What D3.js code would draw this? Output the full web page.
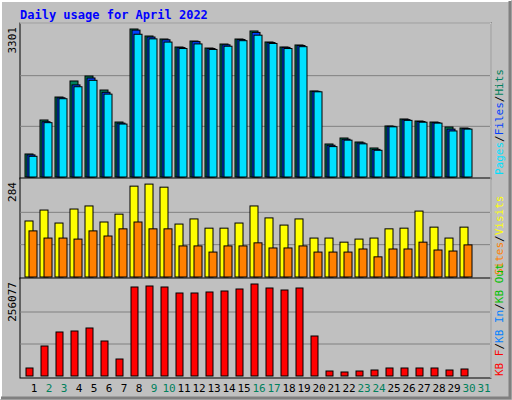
<!DOCTYPE html><html><head><script src="https://cdn.jsdelivr.net/npm/d3@7"></script>
<style>body{margin:0;background:#fff}text{font-family:"DejaVu Sans Mono",monospace}</style></head><body><svg width="512" height="400"></svg>
<script>
const days=d3.range(1,32);
const weekend=[2,3,9,10,16,17,23,24,30,31];
const hits=[500,1238,1737,2085,2193,1889,1194,3214,3062,2997,2823,2953,2801,2888,2997,3171,2932,2823,2867,1868,717,847,760,630,1108,1260,1216,1194,1086,1064];
const files=[480,1200,1720,2000,2150,1840,1170,3190,3040,2980,2810,2940,2790,2870,2985,3140,2920,2815,2855,1860,690,820,740,600,1100,1245,1205,1180,1040,1050];
const pages=[450,1180,1700,1960,2100,1800,1150,3100,3000,2930,2790,2890,2770,2840,2960,3080,2900,2790,2830,1850,660,800,720,580,1090,1230,1190,1170,1000,1040];
const visits=[164,196,158,199,208,161,184,266,272,263,155,170,143,143,158,208,173,152,170,114,114,102,111,114,141,143,193,146,114,146];
const sites=[135,114,114,111,135,120,141,161,141,141,91,91,73,91,91,100,85,85,91,73,73,73,82,59,82,82,102,79,76,94];
const kbytes=[21340,80024,117369,120036,128039,93362,45347,237405,240072,237405,221400,221400,224070,226735,232070,245407,234737,229400,234737,106700,13337,10670,13337,16005,21340,21340,21340,21340,16005,18672];
const maxHits=3301,maxVisits=284,maxKB=256077;
const svg=d3.select("svg");
// frame
svg.append("rect").attr("x",0).attr("y",0).attr("width",512).attr("height",400).attr("fill","#c0c0c0");
svg.append("path").attr("d","M1,399V1H511").attr("stroke","#fff").attr("stroke-width",2).attr("fill","none");
svg.append("path").attr("d","M1,398H510V1").attr("stroke","#808080").attr("stroke-width",3).attr("fill","none");
svg.append("text").attr("x",20).attr("y",19).attr("fill","#0000ff").attr("font-size",12).attr("font-weight","bold").text("Daily usage for April 2022");
const x=d3.scaleLinear().domain([1,31]).range([34,484]);
const L=20,R=491;
const panels=[{t:25,b:177,max:maxHits,lab:"3301"},{t:180,b:277,max:maxVisits,lab:"284"},{t:280,b:376,max:maxKB,lab:"256077"}];
panels.forEach(p=>{
  p.y=d3.scaleLinear().domain([0,p.max]).range([p.b,p.t]);
  svg.append("rect").attr("x",L).attr("y",p.t-2).attr("width",R-L).attr("height",p.b-p.t+4).attr("fill","#c0c0c0").attr("stroke","#000").attr("stroke-width",1);
  svg.append("g").selectAll("line").data([p.max/3,2*p.max/3]).join("line").attr("x1",L).attr("x2",R).attr("y1",d=>p.y(d)).attr("y2",d=>p.y(d)).attr("stroke","#808080");
  svg.append("text").attr("transform",`translate(16,${p.t+2}) rotate(-90)`).attr("text-anchor","end").attr("font-size",11).text(p.lab);
});
svg.append("path").attr("d",`M${L},23H${R}V378`).attr("stroke","#fff").attr("fill","none");
function bars(data,p,dx,w,fill){
  svg.append("g").selectAll("rect").data(data).join("rect")
   .attr("x",(d,i)=>x(i+1)+dx).attr("y",d=>p.y(d)).attr("width",w).attr("height",d=>p.b-p.y(d))
   .attr("fill",fill).attr("stroke","#000").attr("stroke-width",1);
}
bars(hits,panels[0],-9,8,"#00805c");
bars(files,panels[0],-7,8,"#0040ff");
bars(pages,panels[0],-5,8,"#00e0ff");
bars(visits,panels[1],-9,8,"#ffff00");
bars(sites,panels[1],-5,8,"#ff8000");
bars(kbytes,panels[2],-8,7,"#ff0000");
svg.append("g").selectAll("text").data(days).join("text").attr("x",d=>x(d)).attr("y",392).attr("text-anchor","middle").attr("font-size",11)
  .attr("fill",d=>weekend.includes(d)?"#00805c":"#000").text(d=>d);
function side(y,parts){
  const t=svg.append("text").attr("transform",`translate(503,${y}) rotate(-90)`).attr("font-size",11);
  parts.forEach(([s,c])=>t.append("tspan").attr("fill",c).text(s));
}
side(175,[["Pages","#00e0ff"],["/","#000"],["Files","#0040ff"],["/","#000"],["Hits","#00805c"]]);
side(275,[["Sites","#ff8000"],["/","#000"],["Visits","#ffff00"]]);
side(376,[["KB F","#ff0000"],["/","#000"],["KB In","#0080ff"],["/","#000"],["KB Out","#00c000"]]);
</script></body></html>
